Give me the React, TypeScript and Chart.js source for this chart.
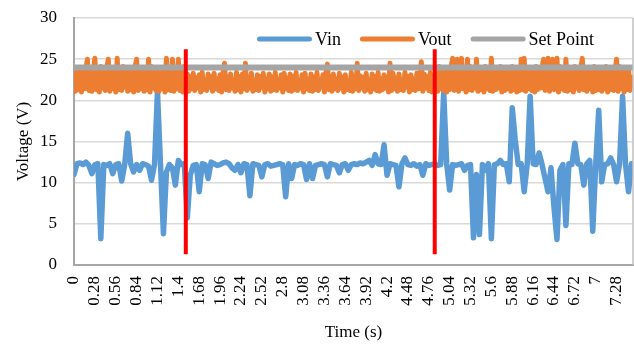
import { useEffect, useRef } from "react";
import { Chart, registerables } from "chart.js";

Chart.register(...registerables);

// ---------- data ----------
const VIN_SAMPLE_PERIOD_S = 0.04;
const VOUT_SAMPLE_PERIOD_S = 0.02;
const X_MIN_S = 0;
const X_MAX_S = 7.5;
const X_TICKS = [0, 0.28, 0.56, 0.84, 1.12, 1.4, 1.68, 1.96, 2.24, 2.52, 2.8, 3.08, 3.36, 3.64, 3.92, 4.2, 4.48, 4.76, 5.04, 5.32, 5.6, 5.88, 6.16, 6.44, 6.72, 7, 7.28];
const Y_MIN = 0;
const Y_MAX = 30;
const Y_STEP = 5;

const VIN = [
  11.0, 12.3, 12.4, 12.2, 12.5, 12.1, 11.1, 12.2, 12.3, 3.2,
  12.2, 12.1, 12.3, 11.1, 12.2, 12.3, 10.2, 12.2, 16.0, 12.3,
  11.3, 12.2, 11.5, 12.3, 12.2, 12.0, 10.3, 12.2, 21.0, 12.3,
  3.8, 11.3, 12.2, 11.8, 9.7, 12.7, 12.2, 12.3, 5.7, 10.9,
  12.1, 12.2, 8.9, 12.3, 12.2, 10.5, 12.5, 12.3, 12.1, 12.2,
  12.4, 12.5, 12.3, 11.8, 11.5, 12.2, 11.2, 12.3, 12.2, 8.4,
  12.3, 12.2, 12.1, 10.7, 12.2, 12.3, 12.0, 12.1, 12.2, 12.3,
  12.2, 8.3, 12.3, 10.5, 12.2, 12.1, 12.3, 12.2, 10.4, 12.3,
  10.5, 12.1, 12.2, 12.3, 12.2, 10.7, 12.3, 12.2, 12.1, 11.2,
  12.2, 12.3, 11.5, 12.2, 12.3, 12.2, 12.4, 12.3, 12.5, 12.7,
  12.1, 13.4, 12.3, 12.2, 14.6, 10.9, 12.3, 12.2, 12.1, 9.5,
  12.3, 13.0, 12.2, 12.1, 12.3, 12.0, 12.2, 10.9, 12.3, 12.1,
  12.2, 12.3, 12.1, 12.2, 21.0, 12.3, 9.1, 12.2, 12.1, 12.2,
  12.3, 11.5, 12.1, 12.2, 3.3, 11.0, 3.7, 12.2, 11.5, 12.3,
  3.2, 12.2, 12.3, 12.7, 12.2, 12.3, 10.1, 19.1, 15.2, 12.2,
  12.3, 8.9, 12.2, 20.5, 12.3, 12.2, 13.6, 12.2, 10.5, 8.9,
  11.8, 7.0, 3.1, 11.5, 12.2, 4.8, 12.3, 12.2, 14.8, 12.3,
  12.2, 9.7, 12.3, 12.7, 4.1, 12.2, 18.8, 10.1, 12.2, 12.3,
  13.0, 12.2, 10.1, 12.3, 20.5, 12.2, 8.9, 12.3,
];

const VOUT = [
  22.6, 21.1, 23.9, 21.3, 24.0, 21.0, 23.7, 21.4, 23.8, 25.0,
  21.2, 24.0, 21.1, 23.6, 25.1, 21.3, 23.9, 21.0, 24.1, 21.5,
  23.8, 21.2, 24.0, 25.0, 21.1, 23.7, 21.4, 24.0, 21.0, 25.1,
  21.3, 23.9, 21.2, 24.1, 21.6, 23.8, 21.1, 24.0, 21.3, 23.7,
  21.0, 24.1, 25.0, 21.2, 23.9, 21.4, 24.0, 21.1, 23.8, 21.3,
  25.0, 21.0, 24.1, 21.5, 23.9, 21.2, 24.0, 21.1, 23.7, 21.4,
  24.0, 21.0, 25.1, 21.3, 23.8, 21.2, 25.0, 21.1, 24.0, 21.4,
  25.0, 21.2, 23.9, 21.0, 24.1, 21.3, 23.2, 21.1, 22.9, 21.4,
  23.3, 21.2, 22.7, 21.5, 23.1, 21.0, 23.4, 21.3, 22.4, 21.2,
  23.2, 21.6, 22.9, 21.1, 23.3, 21.4, 22.6, 21.2, 23.1, 21.0,
  23.3, 24.5, 21.3, 22.8, 21.2, 23.2, 21.5, 22.5, 21.1, 23.4,
  21.3, 22.9, 21.0, 23.2, 21.4, 24.5, 21.2, 22.7, 21.5, 23.3,
  21.1, 22.4, 21.3, 23.1, 21.2, 22.9, 21.6, 23.3, 21.0, 22.6,
  21.4, 23.2, 21.1, 22.8, 21.3, 23.4, 21.2, 22.5, 21.5, 23.1,
  21.0, 23.3, 21.4, 22.7, 21.2, 23.2, 21.1, 22.9, 21.3, 23.4,
  21.2, 22.3, 21.5, 23.1, 21.0, 23.3, 21.4, 22.6, 21.2, 23.2,
  21.1, 22.8, 21.3, 23.4, 21.2, 22.5, 21.6, 23.1, 21.0, 23.3,
  24.4, 21.3, 22.9, 21.1, 23.2, 21.4, 22.6, 21.2, 23.3, 21.5,
  22.8, 21.0, 23.1, 21.3, 22.4, 21.2, 23.4, 21.1, 22.7, 21.4,
  24.5, 21.2, 23.0, 21.5, 22.8, 21.1, 23.3, 21.3, 22.5, 21.0,
  23.2, 21.4, 22.9, 21.2, 23.4, 21.1, 22.6, 21.3, 23.1, 21.5,
  22.8, 21.0, 24.5, 21.2, 23.3, 21.4, 22.7, 21.1, 23.2, 21.3,
  22.5, 21.2, 23.4, 21.6, 22.9, 21.0, 23.1, 21.3, 22.6, 21.2,
  23.3, 21.4, 22.8, 24.7, 21.1, 23.2, 21.5, 22.9, 21.2, 23.4,
  21.0, 23.0, 21.3, 23.9, 21.1, 24.1, 21.4, 23.8, 21.2, 24.0,
  21.0, 23.7, 21.3, 24.1, 25.1, 21.2, 23.9, 25.0, 21.1, 24.0,
  25.1, 21.4, 23.8, 21.0, 25.0, 21.3, 24.1, 21.2, 23.9, 21.5,
  25.0, 21.1, 24.0, 21.3, 23.7, 21.0, 24.1, 21.4, 23.8, 21.2,
  25.1, 21.1, 24.0, 21.3, 23.9, 21.5, 24.1, 21.0, 23.8, 21.2,
  24.0, 21.4, 23.6, 21.1, 24.1, 21.3, 23.9, 21.0, 24.0, 21.2,
  25.0, 21.3, 25.1, 21.1, 23.8, 21.4, 24.0, 21.2, 23.9, 21.0,
  24.1, 21.3, 23.7, 21.5, 24.0, 25.0, 21.2, 23.9, 25.1, 21.1,
  24.0, 25.0, 21.3, 23.8, 25.1, 21.0, 24.1, 21.4, 23.9, 21.2,
  25.0, 21.1, 24.0, 21.3, 23.7, 21.0, 24.1, 21.5, 23.8, 21.2,
  24.0, 25.1, 21.3, 23.9, 21.1, 24.0, 21.4, 23.6, 21.0, 24.1,
  21.2, 23.9, 21.3, 24.0, 21.1, 23.8, 21.4, 24.1, 21.0, 23.9,
  21.3, 24.0, 21.2, 23.7, 25.0, 21.1, 24.1, 21.4, 23.8, 21.0,
  24.0, 21.3, 23.9, 21.2, 22.8,
];

const SET_POINT_V = 24;
const SWITCH_TIMES_S = [1.5, 4.84];
const SWITCH_LINE_V = [1.3, 26.2];

const SERIES_NAMES = ["Vin", "Vout", "Set Point"];
const SERIES_COLORS = ["#5b9bd5", "#ed7d31", "#a5a5a5"];
const SWITCH_COLOR = "#ff0000";

const FONT_FAMILY = "'Liberation Serif', 'Times New Roman', serif";

const toXY = (arr: number[], period: number) =>
  arr.map((v, i) => ({ x: +(i * period).toFixed(2), y: v }));

const legendPlugin = {
  id: "overlayLegend",
  afterDraw(chart: any) {
    const ctx = chart.ctx;
    ctx.save();
    ctx.font = `18px ${FONT_FAMILY}`;
    ctx.textBaseline = "middle";
    ctx.textAlign = "left";
    let x = 257;
    const y = 39;
    SERIES_NAMES.forEach((name, i) => {
      ctx.strokeStyle = SERIES_COLORS[i];
      ctx.lineWidth = 5;
      ctx.lineCap = "round";
      ctx.beginPath();
      ctx.moveTo(x + 2.5, y);
      ctx.lineTo(x + 52.5, y);
      ctx.stroke();
      ctx.fillStyle = "#000";
      ctx.fillText(name, x + 58, y + 1);
      x = x + 58 + ctx.measureText(name).width + 19;
    });
    ctx.restore();
  },
};

const borderPlugin = {
  id: "plotBorder",
  afterDatasetsDraw(chart: any) {
    const { ctx, chartArea } = chart;
    ctx.save();
    ctx.strokeStyle = "#bfbfbf";
    ctx.lineWidth = 1.5;
    ctx.beginPath();
    ctx.moveTo(chartArea.right, chartArea.top);
    ctx.lineTo(chartArea.right, chartArea.bottom);
    ctx.stroke();
    ctx.restore();
  },
};

export default function App() {
  const ref = useRef<HTMLCanvasElement | null>(null);

  useEffect(() => {
    document.body.style.margin = "0";
    if (!ref.current) return;
    const datasets: any[] = [
      {
        label: SERIES_NAMES[0],
        data: toXY(VIN, VIN_SAMPLE_PERIOD_S),
        borderColor: SERIES_COLORS[0],
        borderWidth: 5.5,
        order: 3,
      },
      {
        label: SERIES_NAMES[1],
        data: toXY(VOUT, VOUT_SAMPLE_PERIOD_S),
        borderColor: SERIES_COLORS[1],
        borderWidth: 5,
        order: 2,
      },
      {
        label: SERIES_NAMES[2],
        data: [
          { x: X_MIN_S, y: SET_POINT_V },
          { x: X_MAX_S, y: SET_POINT_V },
        ],
        borderColor: SERIES_COLORS[2],
        borderWidth: 6,
        borderCapStyle: "butt",
        order: 1,
        clip: 0,
      },
      ...SWITCH_TIMES_S.map((t) => ({
        label: "switch",
        data: SWITCH_LINE_V.map((v) => ({ x: t, y: v })),
        borderColor: SWITCH_COLOR,
        borderWidth: 4,
        borderCapStyle: "butt",
        order: 0,
      })),
    ].map((d) => ({
      pointRadius: 0,
      pointHoverRadius: 0,
      tension: 0,
      fill: false,
      borderCapStyle: "round",
      borderJoinStyle: "round",
      ...d,
    }));

    const chart = new Chart(ref.current, {
      type: "line",
      data: { datasets },
      plugins: [legendPlugin, borderPlugin],
      options: {
        animation: false,
        responsive: false,
        events: [],
        layout: { padding: { top: 18, right: 1, left: 0, bottom: 0 } },
        plugins: {
          legend: { display: false },
          tooltip: { enabled: false },
        },
        scales: {
          x: {
            type: "linear",
            min: X_MIN_S,
            max: X_MAX_S,
            afterBuildTicks: (scale: any) => {
              scale.ticks = X_TICKS.map((v) => ({ value: v }));
            },
            afterFit: (scale: any) => {
              scale.height = 79;
              scale.paddingLeft = 0;
              scale.paddingRight = 0;
            },
            ticks: {
              autoSkip: false,
              minRotation: 90,
              maxRotation: 90,
              padding: 11,
              color: "#000",
              font: { family: FONT_FAMILY, size: 17 },
              callback: (v: any) => String(Number(Number(v).toFixed(2))),
            },
            grid: { display: false, drawTicks: false },
            border: { display: true, color: "#a6a6a6", width: 2 },
            title: {
              display: true,
              text: "Time (s)",
              color: "#000",
              font: { family: FONT_FAMILY, size: 17 },
              padding: { top: 0, bottom: 1 },
            },
          },
          y: {
            min: Y_MIN,
            max: Y_MAX,
            afterFit: (scale: any) => {
              scale.width = 74;
              scale.paddingTop = 0;
              scale.paddingBottom = 0;
            },
            ticks: {
              stepSize: Y_STEP,
              padding: 17,
              color: "#000",
              font: { family: FONT_FAMILY, size: 17 },
            },
            grid: { color: "#d9d9d9", lineWidth: 1.5, drawTicks: false },
            border: { display: true, color: "#a6a6a6", width: 2 },
            title: {
              display: true,
              text: "Voltage (V)",
              color: "#000",
              font: { family: FONT_FAMILY, size: 17 },
              padding: { top: 13, bottom: 0 },
            },
          },
        },
      } as any,
    });
    return () => chart.destroy();
  }, []);

  return (
    <div style={{ width: 634, height: 344, position: "relative" }}>
      <canvas ref={ref} width={634} height={344} style={{ display: "block" }} />
    </div>
  );
}
